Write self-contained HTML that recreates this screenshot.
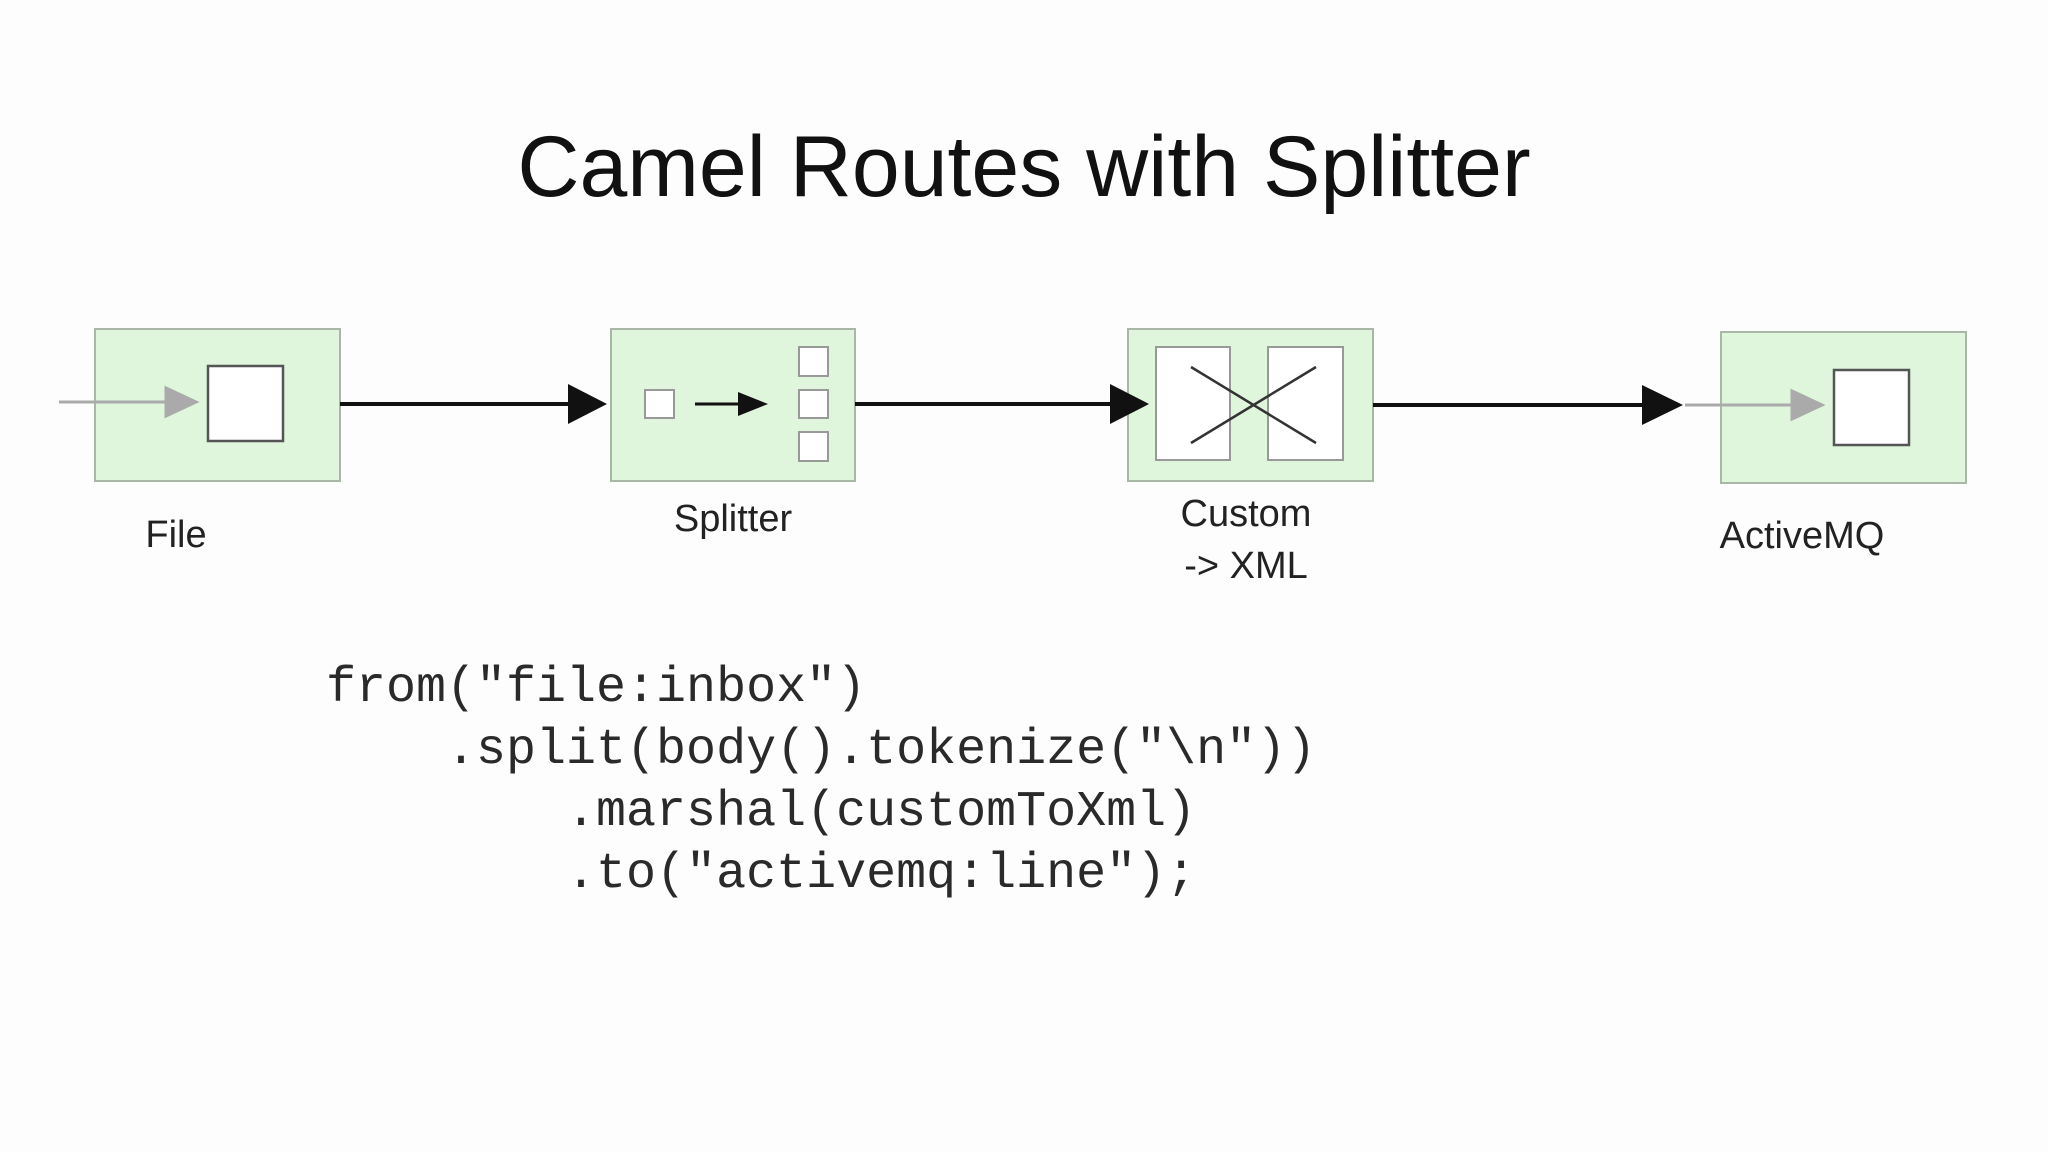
<!DOCTYPE html>
<html><head><meta charset="utf-8"><style>
html,body{margin:0;padding:0;background:#fdfdfd;}
body{width:2048px;height:1152px;position:relative;overflow:hidden;font-family:"Liberation Sans",sans-serif;}
.t{position:absolute;left:0;width:2048px;top:118px;text-align:center;font-size:86px;color:#111;}
.code{position:absolute;left:326px;top:658px;font-family:"Liberation Mono",monospace;font-size:50px;line-height:62px;color:#2a2a2a;white-space:pre;}
</style></head><body>
<div class="t">Camel Routes with Splitter</div>
<svg width="2048" height="1152" style="position:absolute;left:0;top:0">
<g fill="#dff5dc" stroke="#a9b8a6" stroke-width="2">
<rect x="95" y="329" width="245" height="152"/>
<rect x="611" y="329" width="244" height="152"/>
<rect x="1128" y="329" width="245" height="152"/>
<rect x="1721" y="332" width="245" height="151"/>
</g>
<g fill="#fff" stroke="#555" stroke-width="2.5">
<rect x="208" y="366" width="75" height="75"/>
<rect x="1834" y="370" width="75" height="75"/>
</g>
<g fill="#fff" stroke="#999" stroke-width="2">
<rect x="645" y="390" width="29" height="28"/>
<rect x="799" y="347" width="29" height="29"/>
<rect x="799" y="390" width="29" height="28"/>
<rect x="799" y="432" width="29" height="29"/>
<rect x="1156" y="347" width="74" height="113"/>
<rect x="1268" y="347" width="75" height="113"/>
</g>
<g stroke="#333" stroke-width="2.5">
<line x1="1191" y1="367" x2="1316" y2="443"/>
<line x1="1191" y1="443" x2="1316" y2="367"/>
</g>
<g stroke="#aaa" stroke-width="3" fill="#aaa">
<line x1="59" y1="402" x2="170" y2="402"/><polygon points="166,388 196,402 166,416"/>
<line x1="1685" y1="405" x2="1796" y2="405"/><polygon points="1792,391 1822,405 1792,419"/>
</g>
<g stroke="#111" stroke-width="4" fill="#111">
<line x1="340" y1="404" x2="575" y2="404"/><polygon points="568,384 607,404 568,424" stroke="none"/>
<line x1="855" y1="404" x2="1115" y2="404"/><polygon points="1110,384 1149,404 1110,424" stroke="none"/>
<line x1="1373" y1="405" x2="1650" y2="405"/><polygon points="1642,385 1683,405 1642,425" stroke="none"/>
<line x1="695" y1="404" x2="745" y2="404" stroke-width="3"/><polygon points="738,392 768,404 738,416" stroke="none"/>
</g>
<g font-family="Liberation Sans, sans-serif" font-size="38" fill="#222" text-anchor="middle">
<text x="176" y="547">File</text>
<text x="733" y="531">Splitter</text>
<text x="1246" y="526">Custom</text>
<text x="1246" y="578">-&gt; XML</text>
<text x="1802" y="548">ActiveMQ</text>
</g>
</svg>
<div class="code">from("file:inbox")
    .split(body().tokenize("\n"))
        .marshal(customToXml)
        .to("activemq:line");</div>
</body></html>
